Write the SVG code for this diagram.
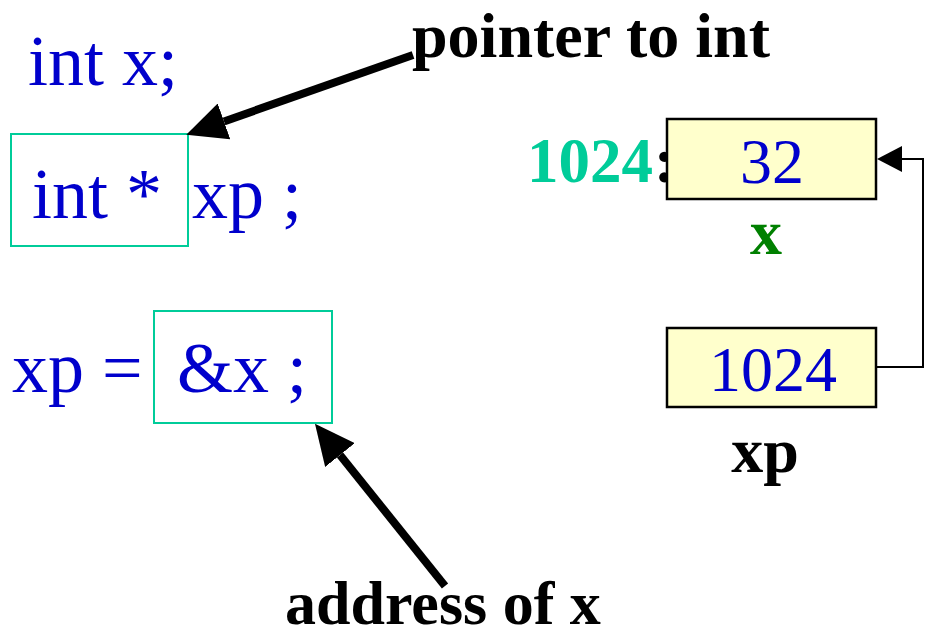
<svg xmlns="http://www.w3.org/2000/svg" width="942" height="637" viewBox="0 0 942 637">
<style>
.code{font-family:"Liberation Serif","Times New Roman",serif;font-size:72px;fill:#0000CC}
.num{font-family:"Liberation Serif","Times New Roman",serif;font-size:64px;fill:#0000CC;text-anchor:middle}
.lbl{font-family:"Liberation Serif","Times New Roman",serif;font-size:64px;font-weight:bold;fill:#000}
.hl{fill:none;stroke:#00CC99;stroke-width:2}
.cell{fill:#FFFFCC;stroke:#000;stroke-width:2.5}
.thick{stroke:#000;stroke-width:8;fill:none}
</style>
<defs>
<marker id="bigHead" markerUnits="userSpaceOnUse" markerWidth="40" markerHeight="38" refX="0" refY="19" orient="auto" viewBox="0 0 40 38">
<path d="M0,0 L40,19 L0,38 z" fill="#000"/>
</marker>
</defs>
<rect width="942" height="637" fill="#fff"/>
<g id="decl-x"><text class="code" x="28" y="85" textLength="150">int x;</text></g>
<g id="decl-xp">
<rect class="hl" x="11" y="134" width="177" height="112"/>
<text class="code" x="32" y="218">int *</text>
<text class="code" x="192" y="218">xp ;</text>
</g>
<g id="assign">
<text class="code" x="12" y="392">xp =</text>
<rect class="hl" x="154" y="311" width="178" height="112"/>
<text class="code" x="177" y="392">&amp;x ;</text>
</g>
<g id="label-pointer"><text class="lbl" x="412" y="57">pointer to int</text></g>
<g id="label-address"><text class="lbl" x="285" y="624" style="font-size:62px">address of x</text></g>
<g id="cell-x">
<text class="lbl" x="527" y="182" style="fill:#00CC99;font-size:63px">1024<tspan dx="1" style="fill:#000">:</tspan></text>
<rect class="cell" x="667" y="119" width="209" height="80"/>
<text class="num" x="772" y="183">32</text>
<text class="lbl" x="766" y="254" style="fill:#008000;text-anchor:middle">x</text>
</g>
<g id="cell-xp">
<rect class="cell" x="667" y="328" width="209" height="79"/>
<text class="num" x="773" y="391">1024</text>
<text class="lbl" x="765" y="472" style="text-anchor:middle">xp</text>
</g>
<g id="connectors">
<line class="thick" x1="413" y1="55" x2="224" y2="121.4" marker-end="url(#bigHead)"/>
<line class="thick" x1="445" y1="586" x2="340" y2="455" marker-end="url(#bigHead)"/>
<polyline points="876,367 923,367 923,159 901,159" fill="none" stroke="#000" stroke-width="2"/>
<path d="M877,159 L902,146 L902,172 z" fill="#000"/>
</g>
</svg>
